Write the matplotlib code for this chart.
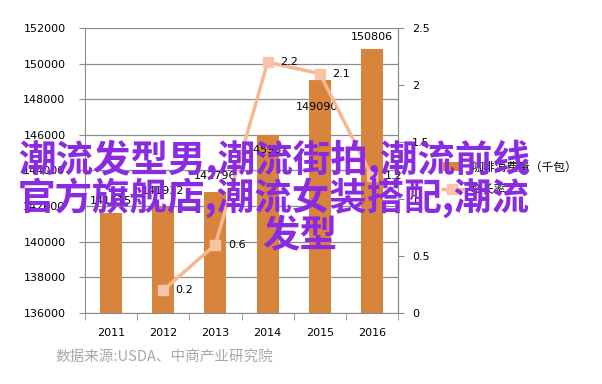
import matplotlib
matplotlib.use('Agg')
import matplotlib.pyplot as plt
import numpy as np

plt.rcParams['font.family'] = ['DejaVu Sans', 'Noto Sans CJK SC']

years = ['2011', '2012', '2013', '2014', '2015', '2016']
consumption = [141615, 141932, 142796, 145987, 149090, 150806]
growth = [np.nan, 0.2, 0.6, 2.2, 2.1, 1.2]

bar_color = '#D9843C'
line_color = '#F6B890'
grid_color = '#8C8C8C'

fig = plt.figure(figsize=(6.02, 3.84), dpi=100)
ax = fig.add_axes([85/602, 1-313/384, 313/602, 285/384])
x = np.arange(len(years))

bars = ax.bar(x, consumption, width=0.42, color=bar_color, zorder=2,
              label='咖啡消费量（千包）')
ax.set_ylim(136000, 152000)
ax.set_xlim(-0.5, len(years)-0.5)
ax.set_yticks(np.arange(136000, 152001, 2000))
ax.set_yticklabels([str(v) for v in range(136000, 152001, 2000)], fontsize=8)
ax.yaxis.grid(True, color=grid_color, linewidth=0.9, zorder=0)
ax.set_axisbelow(True)
ax.set_xticks(x)
ax.set_xticklabels(years, fontsize=8)
ax.set_xticks(np.arange(-0.5, len(years), 1), minor=True)
ax.tick_params(axis='x', which='major', length=0, pad=11)
ax.tick_params(axis='x', which='minor', length=5, color=grid_color)
ax.tick_params(axis='y', length=4, color=grid_color, pad=10)
for s in ['top']:
    ax.spines[s].set_visible(False)
for s in ['left', 'bottom', 'right']:
    ax.spines[s].set_color(grid_color)

# bar value labels (offsets in points, hand-placed like the original)
bar_offsets = [(0, 5), (0, 8), (0, 8), (0, -14), (-2, -23), (0, 5)]
for xi, v, off in zip(x, consumption, bar_offsets):
    ax.annotate(str(v), (xi, v), xytext=off, textcoords='offset points',
                ha='center', va='bottom', fontsize=8, zorder=4)

ax2 = ax.twinx()
ax2.plot(x, growth, color=line_color, linewidth=2.5, marker='s',
         markersize=7, markerfacecolor='#F8C4A6', markeredgecolor='#F8C4A6',
         zorder=3, label='增长率')
ax2.set_ylim(0, 2.5)
ax2.set_yticks([0, 0.5, 1, 1.5, 2, 2.5])
ax2.set_yticklabels(['0', '0.5', '1', '1.5', '2', '2.5'], fontsize=8)
ax2.tick_params(axis='y', length=4, color=grid_color, pad=6)
for s in ['top', 'left', 'bottom']:
    ax2.spines[s].set_visible(False)
ax2.spines['right'].set_color(grid_color)
for xi, g in zip(x, growth):
    if not np.isnan(g):
        ax2.annotate(f'{g:g}', (xi, g), xytext=(9, 0), textcoords='offset points',
                     ha='left', va='center', fontsize=8, zorder=4)

h1, l1 = ax.get_legend_handles_labels()
h2, l2 = ax2.get_legend_handles_labels()
fig.legend(h1 + h2, l1 + l2, loc='upper left', bbox_to_anchor=(432/602, 1-150/384),
           frameon=False, handlelength=1.6, labelspacing=0.8,
           prop={'family': ['Noto Sans CJK SC'], 'size': 8.5})

fig.text(55/602, 1-357/384, '数据来源:USDA、中商产业研究院', color='#A8A8A8',
         fontsize=10.5, family=['Noto Sans CJK SC'], va='center', ha='left')

# overlaid purple caption
purple = '#8A2BE2'
cap_font = dict(color=purple, fontsize=27, fontweight='bold',
                family=['Noto Sans CJK SC'], va='center', zorder=10)
fig.text(18/602, 1-160/384, '潮流发型男,潮流街拍,潮流前线', ha='left', **cap_font)
fig.text(18/602, 1-198/384, '官方旗舰店,潮流女装搭配,潮流', ha='left', **cap_font)
fig.text(300/602, 1-235/384, '发型', ha='center', **cap_font)

fig.savefig('out.png', dpi=100)
